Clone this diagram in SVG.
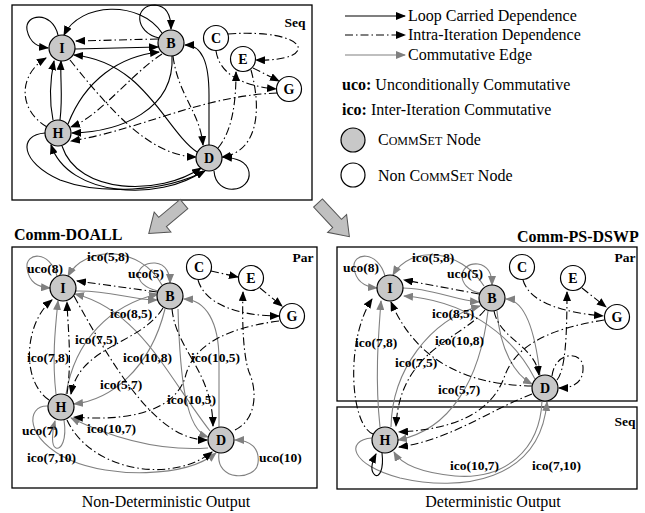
<svg xmlns="http://www.w3.org/2000/svg" width="645" height="513" viewBox="0 0 645 513">
<defs>
<marker id="ab" viewBox="0 0 10 8" refX="9" refY="4" markerWidth="10" markerHeight="8" markerUnits="userSpaceOnUse" orient="auto"><path d="M0,0 L10,4 L0,8 z" fill="#000"/></marker>
<marker id="ag" viewBox="0 0 10 8" refX="9" refY="4" markerWidth="10" markerHeight="8" markerUnits="userSpaceOnUse" orient="auto"><path d="M0,0 L10,4 L0,8 z" fill="#808080"/></marker>
<style>
.lc{fill:none;stroke:#000;stroke-width:1.1;marker-end:url(#ab)}
.ii{fill:none;stroke:#000;stroke-width:1.1;stroke-dasharray:8,3,1.5,3;marker-end:url(#ab)}
.cm{fill:none;stroke:#808080;stroke-width:1.1;marker-end:url(#ag)}
.g{fill:#c8c8c8;stroke:#000;stroke-width:1.2}
.w{fill:#fff;stroke:#000;stroke-width:1.2}
.t{font-family:"Liberation Serif",serif;font-weight:bold;font-size:14px;text-anchor:middle}
.lb{font-family:"Liberation Serif",serif;font-weight:bold;font-size:13.5px}
.lg{font-family:"Liberation Serif",serif;font-size:16px}
.sc{font-size:12px}
.hd{font-family:"Liberation Serif",serif;font-weight:bold;font-size:16px}
.box{fill:none;stroke:#000;stroke-width:1.3}
.big{fill:#c0c0c0;stroke:#555;stroke-width:1}
</style>
</defs>
<rect width="645" height="513" fill="#fff"/>

<g id="panels">
<rect class="box" x="12" y="5" width="300" height="195"/>
<rect class="box" x="12" y="247" width="305" height="241"/>
<rect class="box" x="337" y="247" width="300" height="154"/>
<rect class="box" x="337" y="407" width="300" height="82"/>
<text class="lb" x="295" y="27" text-anchor="middle">Seq</text>
<text class="lb" x="303" y="262" text-anchor="middle">Par</text>
<text class="lb" x="625" y="262" text-anchor="middle">Par</text>
<text class="lb" x="625" y="426" text-anchor="middle">Seq</text>
<text class="hd" x="14" y="240">Comm-DOALL</text>
<text class="hd" x="517" y="242">Comm-PS-DSWP</text>
<text class="lg" x="166" y="507" text-anchor="middle">Non-Deterministic Output</text>
<text class="lg" x="493" y="507" text-anchor="middle">Deterministic Output</text>
</g>

<g id="big-arrows">
<polygon class="big" transform="translate(184,204) rotate(140)" points="0,-6 28,-6 28,-13 46,0 28,13 28,6 0,6"/>
<polygon class="big" transform="translate(318,203) rotate(47)" points="0,-6 28,-6 28,-13 46,0 28,13 28,6 0,6"/>
</g>

<g id="legend">
<path class="lc" d="M345,16 L405,16"/>
<path class="ii" d="M345,35 L405,35"/>
<path class="cm" d="M345,55 L405,55"/>
<text class="lg" x="408" y="21">Loop Carried Dependence</text>
<text class="lg" x="408" y="40">Intra-Iteration Dependence</text>
<text class="lg" x="408" y="60">Commutative Edge</text>
<text class="lg" x="342" y="90"><tspan font-weight="bold">uco:</tspan> Unconditionally Commutative</text>
<text class="lg" x="342" y="115"><tspan font-weight="bold">ico:</tspan> Inter-Iteration Commutative</text>
<circle class="g" cx="353" cy="140" r="12"/>
<circle class="w" cx="353" cy="175" r="12"/>
<text class="lg" x="378" y="145">C<tspan class="sc">OMM</tspan>S<tspan class="sc">ET</tspan> Node</text>
<text class="lg" x="378" y="181">Non C<tspan class="sc">OMM</tspan>S<tspan class="sc">ET</tspan> Node</text>
</g>

<g id="connectors-seq">
<path class="lc" d="M58,35 C52,10 24,14 27,30 C30,44 39,47 48,48"/>
<path class="lc" d="M162,33 C140,0 80,2 64,35"/>
<path class="lc" d="M159,38 C134,32 134,5 155,5 C168,6 171,17 171,29"/>
<path class="lc" d="M75,49 L158,47"/>
<path class="lc" d="M68,124 C85,80 120,56 159,52"/>
<path class="lc" d="M197,152 C165,130 145,62 74,55"/>
<path class="lc" d="M53,120 C49,100 50,80 54,61"/>
<path class="lc" d="M60,120 C63,96 60,80 61,61"/>
<path class="lc" d="M172,56 C175,110 120,132 72,133"/>
<path class="lc" d="M209,145 L209,95 C209,62 202,45 185,45"/>
<path class="lc" d="M214,171 C216,198 252,192 249,172 C247,161 236,158 223,157"/>
<path class="lc" d="M62,146 C78,195 160,196 201,168"/>
<path class="lc" d="M203,171 C160,202 68,197 51,145"/>
<path class="lc" d="M45,133 C18,135 20,162 60,180 C100,195 165,192 205,171"/>
<path class="ii" d="M158,39 L76,41"/>
<path class="ii" d="M47,127 C18,110 18,75 46,58"/>
<path class="ii" d="M162,54 C130,75 100,116 71,127"/>
<path class="ii" d="M277,93 C200,96 140,130 71,141"/>
<path class="ii" d="M173,56 C178,95 200,112 203,145"/>
<path class="ii" d="M218,148 C233,130 236,100 236,72"/>
<path class="ii" d="M251,70 C262,110 258,152 222,157"/>
<path class="ii" d="M228,34 C312,28 320,62 256,60"/>
<path class="ii" d="M216,51 C220,76 245,86 276,89"/>
<path class="ii" d="M253,68 L279,81"/>
<path class="ii" d="M70,60 C110,110 150,156 196,157"/>
</g>

<g id="connectors-doall">
<path class="cm" d="M57,276 C50,250 25,252 27,268 C29,283 38,287 50,288"/>
<path class="cm" d="M162,285 C140,245 85,245 68,276"/>
<path class="cm" d="M158,291 C130,285 135,262 155,263 C167,264 170,275 170,283"/>
<path class="cm" d="M76,291 C110,290 130,300 157,300"/>
<path class="cm" d="M66,394 C75,340 110,305 158,294"/>
<path class="cm" d="M210,431 C170,380 140,310 75,294"/>
<path class="cm" d="M56,394 C52,360 55,330 58,301"/>
<path class="cm" d="M219,427 L219,360 C219,322 206,300 184,299"/>
<path class="cm" d="M178,309 C180,380 186,430 208,437"/>
<path class="cm" d="M165,309 C150,370 110,400 74,404"/>
<path class="cm" d="M208,448 C150,452 100,432 71,418"/>
<path class="cm" d="M48,406 C25,405 25,440 70,460 C110,478 185,478 216,453"/>
<path class="cm" d="M64,420 C67,440 61,450 56,448 C51,446 52,432 55,421"/>
<path class="cm" d="M219,453 C215,482 256,481 258,463 C260,448 250,440 235,440"/>
<path class="ii" d="M157,292 L77,281"/>
<path class="ii" d="M49,400 C20,380 25,322 52,300"/>
<path class="ii" d="M67,394 C72,360 68,330 67,302"/>
<path class="ii" d="M163,308 C140,345 80,345 71,394"/>
<path class="ii" d="M279,321 C210,330 190,355 185,378 C172,415 120,421 74,417"/>
<path class="ii" d="M211,271 L238,277"/>
<path class="ii" d="M260,288 L282,306"/>
<path class="ii" d="M198,280 C205,305 240,316 279,316"/>
<path class="ii" d="M235,430 C256,420 258,392 249,372 C243,355 242,320 243,292"/>
<path class="ii" d="M172,309 C176,350 212,370 213,426"/>
<path class="ii" d="M74,296 C120,380 160,440 207,440"/>
<path class="ii" d="M67,420 C90,470 170,485 212,452"/>
</g>

<g id="connectors-psdswp">
<path class="cm" d="M385,276 C378,250 352,252 354,268 C356,283 366,287 377,288"/>
<path class="cm" d="M484,286 C460,248 410,245 393,275"/>
<path class="cm" d="M480,293 C455,288 458,262 478,264 C490,266 492,276 492,285"/>
<path class="cm" d="M403,288 C430,288 455,300 479,302"/>
<path class="cm" d="M535,379 C510,330 460,300 404,296"/>
<path class="cm" d="M380,427 C375,380 378,340 381,301"/>
<path class="cm" d="M391,427 C392,370 430,320 480,306"/>
<path class="cm" d="M540,375 C535,330 525,300 506,299"/>
<path class="cm" d="M497,311 C500,350 515,375 532,384"/>
<path class="cm" d="M488,311 C480,380 450,430 398,440"/>
<path class="cm" d="M542,401 C540,450 505,480 455,476 C425,473 402,466 394,452"/>
<path class="cm" d="M372,438 C345,440 350,465 400,478 C460,492 540,482 547,402"/>
<path class="ii" d="M479,294 L404,280"/>
<path class="ii" d="M373,434 C350,425 345,340 372,299"/>
<path class="ii" d="M532,386 C480,385 420,370 391,302"/>
<path class="ii" d="M494,311 C500,340 535,345 539,375"/>
<path class="ii" d="M557,380 C565,370 567,340 567,292"/>
<path class="ii" d="M552,376 C555,350 585,350 583,370 C582,385 570,388 559,388"/>
<path class="ii" d="M523,280 C530,305 570,313 603,316"/>
<path class="ii" d="M582,288 L606,307"/>
<path class="ii" d="M604,320 C540,330 515,350 505,375 C490,420 440,430 399,432"/>
<path class="ii" d="M532,394 C490,410 450,440 399,447"/>
<path class="ii" d="M485,310 C460,340 400,350 396,426"/>
<path class="lc" d="M382,453 C384,470 379,478 375,475 C370,471 372,462 376,454"/>
</g>

<g id="labels">
<text class="lb" x="27" y="273">uco(8)</text>
<text class="lb" x="87" y="261">ico(5,8)</text>
<text class="lb" x="128" y="278">uco(5)</text>
<text class="lb" x="110" y="318">ico(8,5)</text>
<text class="lb" x="75" y="344">ico(7,5)</text>
<text class="lb" x="27" y="362">ico(7,8)</text>
<text class="lb" x="123" y="362">ico(10,8)</text>
<text class="lb" x="191" y="362">ico(10,5)</text>
<text class="lb" x="167" y="404">ico(10,5)</text>
<text class="lb" x="100" y="389">ico(5,7)</text>
<text class="lb" x="22" y="435">uco(7)</text>
<text class="lb" x="87" y="433">ico(10,7)</text>
<text class="lb" x="27" y="462">ico(7,10)</text>
<text class="lb" x="259" y="462">uco(10)</text>
<text class="lb" x="343" y="272">uco(8)</text>
<text class="lb" x="412" y="262">ico(5,8)</text>
<text class="lb" x="447" y="278">uco(5)</text>
<text class="lb" x="432" y="318">ico(8,5)</text>
<text class="lb" x="355" y="347">ico(7,8)</text>
<text class="lb" x="435" y="345">ico(10,8)</text>
<text class="lb" x="395" y="367">ico(7,5)</text>
<text class="lb" x="438" y="394">ico(5,7)</text>
<text class="lb" x="450" y="470">ico(10,7)</text>
<text class="lb" x="532" y="470">ico(7,10)</text>
</g>

<g id="seq-I"><circle class="g" cx="62" cy="48" r="13"/><text class="t" x="62" y="53">I</text></g>
<g id="seq-B"><circle class="g" cx="171" cy="43" r="13"/><text class="t" x="171" y="48">B</text></g>
<g id="seq-C"><circle class="w" cx="216" cy="38" r="12.5"/><text class="t" x="216" y="43">C</text></g>
<g id="seq-E"><circle class="w" cx="243" cy="59" r="12.5"/><text class="t" x="243" y="64">E</text></g>
<g id="seq-G"><circle class="w" cx="289" cy="89" r="12.5"/><text class="t" x="289" y="94">G</text></g>
<g id="seq-H"><circle class="g" cx="58" cy="133" r="13"/><text class="t" x="58" y="138">H</text></g>
<g id="seq-D"><circle class="g" cx="209" cy="158" r="13"/><text class="t" x="209" y="163">D</text></g>

<g id="doall-I"><circle class="g" cx="63" cy="288" r="13"/><text class="t" x="63" y="293">I</text></g>
<g id="doall-B"><circle class="g" cx="170" cy="296" r="13"/><text class="t" x="170" y="301">B</text></g>
<g id="doall-C"><circle class="w" cx="199" cy="267" r="12.5"/><text class="t" x="199" y="272">C</text></g>
<g id="doall-E"><circle class="w" cx="251" cy="278" r="12.5"/><text class="t" x="251" y="283">E</text></g>
<g id="doall-G"><circle class="w" cx="292" cy="316" r="12.5"/><text class="t" x="292" y="321">G</text></g>
<g id="doall-H"><circle class="g" cx="61" cy="407" r="13"/><text class="t" x="61" y="412">H</text></g>
<g id="doall-D"><circle class="g" cx="221" cy="440" r="13"/><text class="t" x="221" y="445">D</text></g>

<g id="psdswp-I"><circle class="g" cx="390" cy="288" r="13"/><text class="t" x="390" y="293">I</text></g>
<g id="psdswp-B"><circle class="g" cx="492" cy="298" r="13"/><text class="t" x="492" y="303">B</text></g>
<g id="psdswp-C"><circle class="w" cx="522" cy="267" r="12.5"/><text class="t" x="522" y="272">C</text></g>
<g id="psdswp-E"><circle class="w" cx="573" cy="278" r="12.5"/><text class="t" x="573" y="283">E</text></g>
<g id="psdswp-G"><circle class="w" cx="617" cy="317" r="12.5"/><text class="t" x="617" y="322">G</text></g>
<g id="psdswp-D"><circle class="g" cx="545" cy="388" r="13"/><text class="t" x="545" y="393">D</text></g>
<g id="psdswp-H"><circle class="g" cx="385" cy="440" r="13"/><text class="t" x="385" y="445">H</text></g>
</svg>
